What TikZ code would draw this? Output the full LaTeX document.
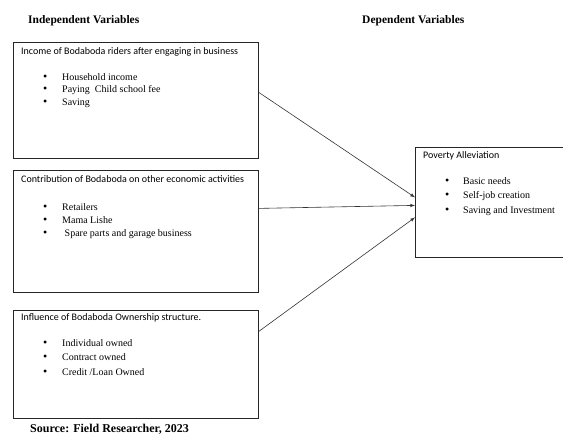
\documentclass[tikz,border=0pt]{standalone}
\usepackage{fontspec}
\setmainfont{Liberation Serif}
\newfontfamily\calib{Carlito}
\usepackage{tikz}
\usetikzlibrary{positioning, arrows}

\newcommand{\bul}{\makebox[19pt][l]{\fontsize{12}{12}\selectfont\textbullet}}

\begin{document}
\begin{tikzpicture}[x=1pt, y=-1pt,
    varbox/.style={draw=black!85, line width=0.8pt, inner sep=0pt, anchor=north west},
    boxhead/.style={anchor=base west, inner sep=0pt, font=\calib\fontsize{10}{12}\selectfont},
    itemlist/.style={anchor=north west, inner sep=0pt, align=left, font=\fontsize{10}{12.5}\selectfont},
    coltitle/.style={anchor=base west, inner sep=0pt, font=\bfseries\fontsize{11.5}{13}\selectfont},
    link/.style={-latex, draw=black!80, line width=0.6pt}]
    \useasboundingbox (0,0) rectangle (563,435);

    % column titles
    \node[coltitle] (indep) at (28,24) {Independent Variables};
    \node[coltitle] (dep) at (362,24) {Dependent Variables};

    % independent variable boxes
    \node[varbox, minimum width=245pt, minimum height=116pt] (income) at (13,42) {};
    \node[boxhead] (incomehead) at (21,55) {Income of Bodaboda riders after engaging in business};
    \node[itemlist] (incomelist) at (43,73) {\bul Household income\\
        \bul Paying~ Child school fee\\
        \bul Saving};

    \node[varbox, minimum width=245pt, minimum height=122pt] (contrib) at (13,170) {};
    \node[boxhead] (contribhead) at (21,183) {Contribution of Bodaboda on other economic activities};
    \node[itemlist, font=\fontsize{10}{13}\selectfont] (contriblist) at (43,203) {\bul Retailers\\
        \bul Mama Lishe\\
        \bul ~Spare parts and garage business};

    \node[varbox, minimum width=245pt, minimum height=108pt] (owner) at (13,310) {};
    \node[boxhead] (ownerhead) at (21,321) {Influence of Bodaboda Ownership structure.};
    \node[itemlist, font=\fontsize{10}{14.5}\selectfont] (ownerlist) at (43,339) {\bul Individual owned\\
        \bul Contract owned\\
        \bul Credit /Loan Owned};

    % dependent variable box
    \node[varbox, minimum width=151pt, minimum height=110pt] (poverty) at (415,147) {};
    \node[boxhead] (povertyhead) at (423,159) {Poverty Alleviation};
    \node[itemlist, font=\fontsize{10}{14.5}\selectfont] (povertylist) at (445,177) {\makebox[18pt][l]{\fontsize{12}{12}\selectfont\textbullet}Basic needs\\
        \makebox[18pt][l]{\fontsize{12}{12}\selectfont\textbullet}Self-job creation\\
        \makebox[18pt][l]{\fontsize{12}{12}\selectfont\textbullet}Saving and Investment};

    \draw[link] ([yshift=8pt]income.east) -- ([yshift=5pt]poverty.west);
    \draw[link] ([yshift=23pt]contrib.east) -- ([yshift=-3pt]poverty.west);
    \draw[link] ([yshift=33pt]owner.east) -- ([yshift=-15pt]poverty.west);

    \node[coltitle, font=\bfseries\fontsize{12}{14}\selectfont] (source) at (30,433) {Source: Field Researcher, 2023};
\end{tikzpicture}
\end{document}
